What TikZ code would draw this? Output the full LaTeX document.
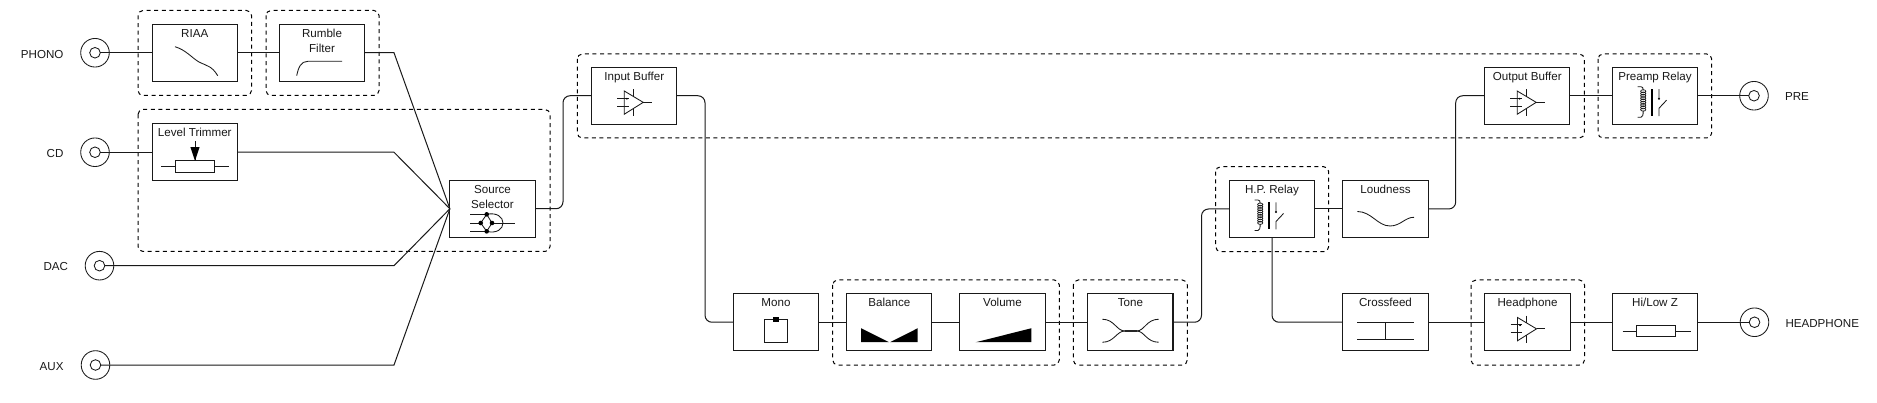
\documentclass[tikz,border=0pt]{standalone}
\usepackage{fontspec}
\setmainfont{Liberation Sans}
\tikzset{
  x=1pt,y=-1pt,
  wire/.style={line width=1pt,draw=black!90},
  blk/.style={draw=black!90,line width=1.05pt,fill=white,minimum width=85.2pt,minimum height=56.6pt,inner sep=0pt,outer sep=0pt},
  blklabel/.style={anchor=north,inner sep=0pt,outer sep=0pt,yshift=-4.6pt,text height=8.4pt,font=\fontsize{11.6}{15}\selectfont,text=black!90},
  grp/.style={draw=black,line width=1pt,dash pattern=on 4pt off 3.6pt,rounded corners=5pt},
  jack/.style={circle,draw=black!90,line width=0.85pt,minimum size=10.6pt,inner sep=0pt,outer sep=0pt},
  jackouter/.style={circle,draw=black!90,line width=0.85pt,minimum size=28.6pt,inner sep=0pt,outer sep=0pt},
  ext/.style={inner sep=0pt,outer sep=0pt,font=\fontsize{11.6}{15}\selectfont,text=black!90},
  icon/.style={line width=0.85pt,draw=black!90},
}
\newcommand{\opampicon}[1]{\begin{scope}[shift={(#1)}]
  \draw[icon] (-10,-4.75) -- (-10,18.5) -- (9,6.6) -- cycle;
  \draw[icon] (9,6.6) -- (17.5,6.6);
  \draw[icon] (-17,2.3) -- (-5.5,2.3) (-17,10.3) -- (-5.5,10.3);
  \draw[icon] (-1,-6.5) -- (-1,0.3) (-1,12.9) -- (-1,20.3);
  \fill (-7.5,3) circle (1pt);
\end{scope}}
\newcommand{\relayicon}[1]{\begin{scope}[shift={(#1)}]
  \draw[icon] (-17.3,-9) -- (-14,-9) .. controls (-12.5,-9) and (-11.8,-8) .. (-11.8,-5.5);
  \draw[icon] (-11.8,15) .. controls (-11.8,19.5) and (-12.5,21.5) .. (-14,21.5) -- (-17.3,21.5);
  \foreach \yy in {-4.5,-2.2,...,15.5} {\draw[line width=0.75pt,draw=black!90] (-11.8,\yy) ellipse (2.6pt and 1.5pt);}
  \draw[line width=2.1pt,draw=black] (-3.3,-6.5) -- (-3.3,20.5);
  \draw[icon] (4,-6.5) -- (4,3.5) (4,20.5) -- (4,12.5) -- (11.5,4.5);
  \fill (4,3) circle (1.2pt);
\end{scope}}
\begin{document}
\begin{tikzpicture}
\useasboundingbox (0,0) rectangle (1877,403);
% bend coordinates
\coordinate (fan) at (394,0);
\coordinate (va) at (563,0);
\coordinate (vb) at (705,0);
\coordinate (vc) at (1201.5,0);
\coordinate (vd) at (1455.7,0);
% dashed groups
\draw[grp] (138,10.5) rectangle (251.5,95.5);
\draw[grp] (266,10.5) rectangle (379,95.5);
\draw[grp] (138,109.5) rectangle (550,251.5);
\draw[grp] (577.3,54) rectangle (1584.3,138);
\draw[grp] (1598,54) rectangle (1711.7,138);
\draw[grp] (832.7,280) rectangle (1059.3,365);
\draw[grp] (1073.3,280) rectangle (1187.3,365);
\draw[grp] (1215.7,166.7) rectangle (1328.7,251.7);
\draw[grp] (1471,280) rectangle (1584.5,365);
% blocks
\node[blk,label={[blklabel]north:RIAA}] (riaa) at (194.75,52.75) {};
\node[blk,label={[blklabel]north:Rumble},label={[blklabel,yshift=-15pt]north:Filter}] (rumble) at (322,52.75) {};
\node[blk,label={[blklabel]north:Level Trimmer}] (level) at (194.75,152.25) {};
\node[blk,label={[blklabel]north:Source},label={[blklabel,yshift=-15pt]north:Selector}] (select) at (492.5,208.75) {};
\node[blk,label={[blklabel]north:Input Buffer}] (input) at (634.25,95.75) {};
\node[blk,label={[blklabel]north:Mono}] (mono) at (776,322.25) {};
\node[blk,label={[blklabel]north:Balance}] (balance) at (889.3,322.25) {};
\node[blk,label={[blklabel]north:Volume}] (volume) at (1002.5,322.25) {};
\node[blk,label={[blklabel]north:Tone}] (tone) at (1130.4,322.25) {};
\node[blk,label={[blklabel]north:H.P. Relay}] (hp) at (1272,209) {};
\node[blk,label={[blklabel]north:Loudness}] (loud) at (1385.5,209) {};
\node[blk,label={[blklabel]north:Output Buffer}] (output) at (1527.2,95.75) {};
\node[blk,label={[blklabel]north:Preamp Relay}] (preamp) at (1655,95.75) {};
\node[blk,label={[blklabel]north:Crossfeed}] (cross) at (1385.5,322.25) {};
\node[blk,label={[blklabel]north:Headphone}] (hpamp) at (1527.5,322.25) {};
\node[blk,label={[blklabel]north:Hi/Low Z}] (hilo) at (1655,322.25) {};
% jacks
\node[jackouter] (phonoo) at (95,52.75) {};
\node[jack] (phono) at (95,52.75) {};
\node[jackouter] (cdo) at (95,152.25) {};
\node[jack] (cd) at (95,152.25) {};
\node[jackouter] (daco) at (99.5,265.7) {};
\node[jack] (dac) at (99.5,265.7) {};
\node[jackouter] (auxo) at (95.5,365) {};
\node[jack] (aux) at (95.5,365) {};
\node[jackouter] (preo) at (1754,95.75) {};
\node[jack] (pre) at (1754,95.75) {};
\node[jackouter] (hpjo) at (1754.5,322.25) {};
\node[jack] (hpj) at (1754.5,322.25) {};
% external labels
\node[ext,anchor=east] (tphono) at (63.5,54.5) {PHONO};
\node[ext,anchor=east] (tcd) at (63.5,153.5) {CD};
\node[ext,anchor=east] (tdac) at (68,267) {DAC};
\node[ext,anchor=east] (taux) at (63.5,367) {AUX};
\node[ext,anchor=west] (tpre) at (1785,97) {PRE};
\node[ext,anchor=west] (thp) at (1785.5,323.5) {HEADPHONE};
% wires
\draw[wire] (phono.east) -- (riaa.west);
\draw[wire] (riaa.east) -- (rumble.west);
\draw[wire] (cd.east) -- (level.west);
\draw[wire] (rumble.east) -- (rumble.east -| fan) -- (select.west);
\draw[wire] (level.east) -- (level.east -| fan) -- (select.west);
\draw[wire] (dac.east) -- (dac.east -| fan) -- (select.west);
\draw[wire] (aux.east) -- (aux.east -| fan) -- (select.west);
\draw[wire,rounded corners=7pt] (select.east) -- (select.east -| va) -- (input.west -| va) -- (input.west);
\draw[wire,rounded corners=7pt] (input.east) -- (input.east -| vb) -- (mono.west -| vb) -- (mono.west);
\draw[wire] (mono.east) -- (balance.west);
\draw[wire] (balance.east) -- (volume.west);
\draw[wire] (volume.east) -- (tone.west);
\draw[wire,rounded corners=7pt] (tone.east) -- (tone.east -| vc) -- (hp.west -| vc) -- (hp.west);
\draw[wire] (hp.east) -- (loud.west);
\draw[wire,rounded corners=7pt] (loud.east) -- (loud.east -| vd) -- (output.west -| vd) -- (output.west);
\draw[wire] (output.east) -- (preamp.west);
\draw[wire] (preamp.east) -- (pre.west);
\draw[wire,rounded corners=7pt] (hp.south) -- (hp.south |- cross.west) -- (cross.west);
\draw[wire] (cross.east) -- (hpamp.west);
\draw[wire] (hpamp.east) -- (hilo.west);
\draw[wire] (hilo.east) -- (hpj.west);
% icons
\draw[icon] (175,46.7) .. controls (186,50) and (192,58) .. (199,62) .. controls (207,66) and (212,66) .. (217.7,75.7);
\draw[icon] (296.7,75.7) .. controls (298.5,67) and (301,61.3) .. (308,61.3) -- (342,61.3);
\begin{scope}[shift={(level.center)}]
  \draw[icon] (-33.75,14) -- (-19.75,14) (20,14) -- (34.25,14);
  \draw[icon,line width=0.9pt] (-19.75,8.5) rectangle (20,20);
  \draw[icon] (0.25,-11) -- (0.25,8.5);
  \fill (-4.3,-5) -- (4.8,-5) -- (0.25,8.5) -- cycle;
\end{scope}
\begin{scope}[shift={(select.center)}]
  \draw[icon] (-22.5,5.6) -- (-5.8,5.6) (-22.5,14.25) -- (-11.8,14.25) (-22.5,22.6) -- (-5.8,22.6) (-0.5,14.25) -- (22.5,14.25);
  \draw[icon] (-5.8,5.6) -- (-11.8,14.25) -- (-5.8,22.6) (-5.8,5.6) -- (-0.5,14.25) -- (-5.8,22.6);
  \draw[icon] (-5.8,5.6) .. controls (4,3.5) and (10.5,8) .. (10.5,14.25) .. controls (10.5,20.5) and (4,25) .. (-5.8,22.6);
  \fill (-5.8,5.6) circle (2.3pt) (-11.8,14.25) circle (2.3pt) (-5.8,22.6) circle (2.3pt) (-0.5,14.25) circle (2.3pt);
\end{scope}
\opampicon{input.center}
\opampicon{output.center}
\opampicon{hpamp.center}
\relayicon{hp.center}
\relayicon{preamp.center}
\begin{scope}[shift={(mono.center)}]
  \draw[icon,line width=0.9pt] (-11.7,-3) rectangle (11.7,20);
  \fill (-2.7,-5.4) rectangle (2.7,-0.2);
\end{scope}
\begin{scope}[shift={(balance.center)}]
  \fill (-28.3,6) -- (-28.3,20) -- (-0.3,20) -- cycle;
  \fill (0.7,20) -- (28.4,6) -- (28.4,20) -- cycle;
\end{scope}
\begin{scope}[shift={(volume.center)}]
  \fill (-26.8,20) -- (28.8,6) -- (28.8,20) -- cycle;
\end{scope}
\begin{scope}[shift={(tone.center)}]
  \draw[icon] (-28,-3) .. controls (-16,-3) and (-14,8.75) .. (-5.4,8.75);
  \draw[icon] (-28,20) .. controls (-16,20) and (-14,8.75) .. (-5.4,8.75);
  \draw[icon] (28.3,-3) .. controls (16,-3) and (14,8.75) .. (6.3,8.75);
  \draw[icon] (28.3,20) .. controls (16,20) and (14,8.75) .. (6.3,8.75);
  \draw[line width=1.8pt,draw=black!85] (-5.4,8.75) -- (6.3,8.75);
\end{scope}
\begin{scope}[shift={(loud.center)}]
  \draw[icon] (-28.2,2.5) .. controls (-14,2.5) and (-8,17) .. (4.5,17) .. controls (15,17) and (20,8) .. (28.5,8.3);
\end{scope}
\begin{scope}[shift={(cross.center)}]
  \draw[icon,line width=0.9pt] (-28.5,0) -- (28.5,0) (-28.5,17) -- (28.5,17) (0,0) -- (0,17);
\end{scope}
\begin{scope}[shift={(hilo.center)}]
  \draw[icon,line width=0.9pt] (-32.5,8.75) -- (-19,8.75) (20.5,8.75) -- (35.7,8.75);
  \draw[icon,line width=0.9pt] (-19,3) rectangle (20.5,14.4);
\end{scope}
\end{tikzpicture}
\end{document}
